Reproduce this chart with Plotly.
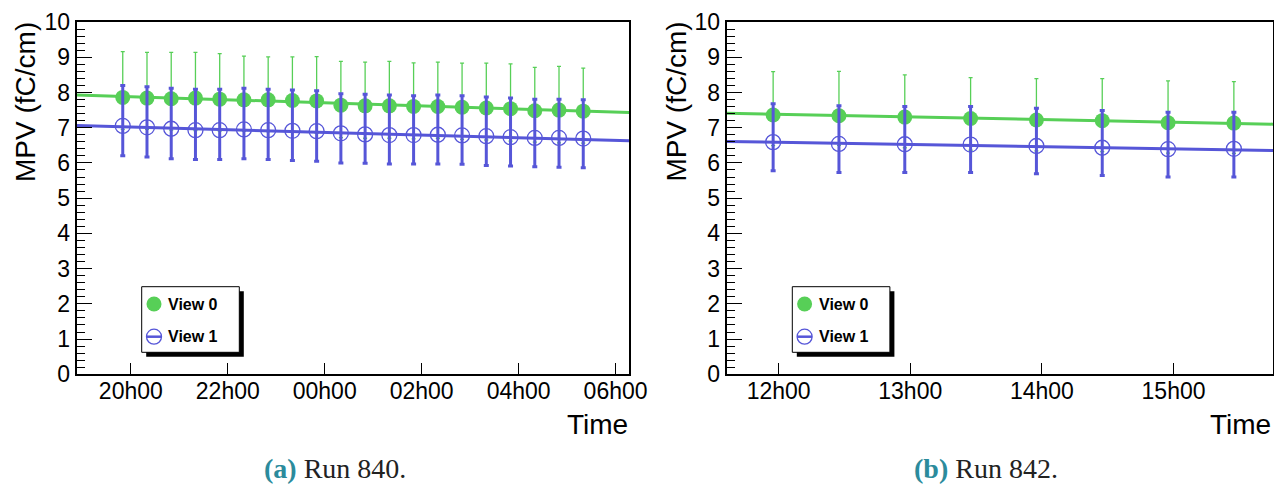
import plotly.graph_objects as go

# ---------------- data ----------------
# Run 840 (left panel)
times_840 = ["2017-03-10 19:50", "2017-03-10 20:20", "2017-03-10 20:50", "2017-03-10 21:20",
             "2017-03-10 21:50", "2017-03-10 22:20", "2017-03-10 22:50", "2017-03-10 23:20",
             "2017-03-10 23:50", "2017-03-11 00:20", "2017-03-11 00:50", "2017-03-11 01:20",
             "2017-03-11 01:50", "2017-03-11 02:20", "2017-03-11 02:50", "2017-03-11 03:20",
             "2017-03-11 03:50", "2017-03-11 04:20", "2017-03-11 04:50", "2017-03-11 05:20"]
view0_840 = [7.86, 7.84, 7.82, 7.84, 7.81, 7.79, 7.79, 7.77, 7.76, 7.64,
             7.62, 7.62, 7.60, 7.60, 7.58, 7.56, 7.54, 7.48, 7.50, 7.47]
view0_840_up = [1.30, 1.30, 1.32, 1.30, 1.29, 1.24, 1.22, 1.24, 1.26, 1.24,
                1.24, 1.26, 1.24, 1.26, 1.25, 1.27, 1.27, 1.23, 1.24, 1.22]
view0_840_dn = [0.91, 0.89, 0.89, 0.92, 0.91, 0.89, 0.90, 0.89, 0.92, 0.92,
                0.92, 0.92, 0.92, 0.90, 0.91, 0.91, 0.92, 0.89, 0.93, 0.91]
view1_840 = [7.05, 7.01, 6.97, 6.93, 6.93, 6.95, 6.93, 6.91, 6.90, 6.84,
             6.81, 6.79, 6.79, 6.80, 6.78, 6.76, 6.73, 6.71, 6.71, 6.69]
view1_840_up = [1.15, 1.15, 1.15, 1.16, 1.16, 1.17, 1.16, 1.16, 1.15, 1.12,
                1.14, 1.14, 1.12, 1.13, 1.13, 1.11, 1.11, 1.10, 1.10, 1.10]
view1_840_dn = [0.85, 0.84, 0.85, 0.83, 0.83, 0.83, 0.83, 0.84, 0.85, 0.84,
                0.82, 0.82, 0.82, 0.83, 0.82, 0.83, 0.82, 0.82, 0.83, 0.83]
range_840 = ["2017-03-10 18:53", "2017-03-11 06:17"]
fit0_840 = [7.93, 7.43]
fit1_840 = [7.06, 6.63]

# Run 842 (right panel)
times_842 = ["2017-03-12 11:57:30", "2017-03-12 12:27:30", "2017-03-12 12:57:30", "2017-03-12 13:27:30",
             "2017-03-12 13:57:30", "2017-03-12 14:27:30", "2017-03-12 14:57:30", "2017-03-12 15:27:30"]
view0_842 = [7.36, 7.34, 7.30, 7.26, 7.22, 7.20, 7.14, 7.13]
view0_842_up = [1.23, 1.26, 1.20, 1.16, 1.17, 1.19, 1.19, 1.18]
view0_842_dn = [0.87, 0.84, 0.87, 0.90, 0.88, 0.88, 0.86, 0.86]
view1_842 = [6.59, 6.54, 6.53, 6.52, 6.48, 6.43, 6.39, 6.40]
view1_842_up = [1.09, 1.08, 1.07, 1.08, 1.07, 1.06, 1.05, 1.04]
view1_842_dn = [0.81, 0.81, 0.80, 0.79, 0.79, 0.79, 0.79, 0.80]
range_842 = ["2017-03-12 11:36:20", "2017-03-12 15:45:20"]
fit0_842 = [7.41, 7.10]
fit1_842 = [6.61, 6.35]

y_ticks = [0, 1, 2, 3, 4, 5, 6, 7, 8, 9, 10]
series_names = ["View 0", "View 1"]
captions = [("(a)", "Run 840."), ("(b)", "Run 842.")]

# ---------------- styling ----------------
# The page body has an 8px default margin: page pixel (x, y) maps to
# figure pixel (x - 8, y - 8).  The figure is kept inside the visible body width.
OFF = 8
W, H = 1282 - 2 * OFF, 487 - OFF
GREEN = "#57cf57"
BLUE = "#5656d8"
SANS = "Liberation Sans, Arial, Helvetica, sans-serif"
SERIF = "Liberation Serif, Times New Roman, serif"
TEAL = "#2b8b9c"
RIGHT_EDGE = 1273.0


def px(x):
    return (x - OFF) / W


def py(y):
    return 1 - (y - OFF) / H


fig = go.Figure()


def add_panel(xa, ya, times, v0, v0u, v0d, v1, v1u, v1d, xr, f0, f1):
    fig.add_trace(go.Scatter(x=xr, y=f0, mode="lines", line=dict(color=GREEN, width=3),
                             xaxis=xa, yaxis=ya, showlegend=False, hoverinfo="skip"))
    fig.add_trace(go.Scatter(x=times, y=v0, mode="markers", name=series_names[0],
                             marker=dict(symbol="circle", size=15, color=GREEN),
                             error_y=dict(type="data", symmetric=False, array=v0u, arrayminus=v0d,
                                          color=GREEN, thickness=1.3, width=2),
                             xaxis=xa, yaxis=ya, showlegend=False))
    fig.add_trace(go.Scatter(x=xr, y=f1, mode="lines", line=dict(color=BLUE, width=3),
                             xaxis=xa, yaxis=ya, showlegend=False, hoverinfo="skip"))
    fig.add_trace(go.Scatter(x=times, y=v1, mode="markers", name=series_names[1],
                             marker=dict(symbol="circle-open", size=15, color=BLUE,
                                         line=dict(width=1.3, color=BLUE)),
                             error_y=dict(type="data", symmetric=False, array=v1u, arrayminus=v1d,
                                          color=BLUE, thickness=3, width=2.5),
                             xaxis=xa, yaxis=ya, showlegend=False))


add_panel("x", "y", times_840, view0_840, view0_840_up, view0_840_dn,
          view1_840, view1_840_up, view1_840_dn, range_840, fit0_840, fit1_840)
add_panel("x2", "y2", times_842, view0_842, view0_842_up, view0_842_dn,
          view1_842, view1_842_up, view1_842_dn, range_842, fit0_842, fit1_842)

ydom = [py(374.3), py(22.0)]
common_y = dict(range=[0, 10], tickvals=y_ticks, ticks="inside", ticklen=15, tickwidth=1,
                tickcolor="black", showline=True, linewidth=2, linecolor="black", mirror=True,
                showgrid=False, zeroline=False, domain=ydom, automargin=False,
                tickfont=dict(family=SANS, size=23, color="black"),
                minor=dict(ticks="inside", ticklen=8, tickwidth=1, tickcolor="black", dtick=0.2,
                           showgrid=False))
common_x = dict(type="date", tickformat="%Hh%M", ticks="inside", ticklen=11, tickwidth=1,
                tickcolor="black", showline=True, linewidth=2, linecolor="black", mirror=True,
                showgrid=False, zeroline=False, automargin=False, ticklabelstandoff=-5,
                tickfont=dict(family=SANS, size=23, color="black"))

fig.update_layout(
    width=W, height=H, autosize=False,
    margin=dict(l=0, r=0, t=0, b=0, pad=0),
    paper_bgcolor="white", plot_bgcolor="white",
    showlegend=False,
    xaxis=dict(common_x, domain=[px(76.7), px(629.3)], range=range_840,
               dtick=7200000, tick0="2017-03-10 00:00", anchor="y"),
    yaxis=dict(common_y, anchor="x"),
    xaxis2=dict(common_x, domain=[px(726.7), px(RIGHT_EDGE)], range=range_842,
                dtick=3600000, tick0="2017-03-12 00:00", anchor="y2"),
    yaxis2=dict(common_y, anchor="x2"),
)

shapes = []
annotations = []
for k, dx in enumerate([0.0, 650.6]):
    # axis titles
    annotations.append(dict(text="MPV (fC/cm)", textangle=-90, x=px(25 + dx),
                            y=py(20), xref="paper", yref="paper", xanchor="center", yanchor="top",
                            showarrow=False, font=dict(family=SANS, size=28, color="black")))
    annotations.append(dict(text="Time", x=px(min(629.5 + dx, RIGHT_EDGE)), y=py(424),
                            xref="paper", yref="paper",
                            xanchor="right", yanchor="middle", showarrow=False,
                            font=dict(family=SANS, size=28, color="black")))
    # legend box with shadow
    x0, x1, y0, y1 = 141.7 + dx, 239.3 + dx, 286.7, 352.3
    shapes.append(dict(type="rect", xref="paper", yref="paper", x0=px(x0 + 4.5), x1=px(x1 + 4.5),
                       y0=py(y1 + 4.5), y1=py(y0 + 4.5), fillcolor="black", line=dict(width=0),
                       layer="above"))
    shapes.append(dict(type="rect", xref="paper", yref="paper", x0=px(x0), x1=px(x1),
                       y0=py(y1), y1=py(y0), fillcolor="white", line=dict(color="black", width=1),
                       layer="above"))
    cx = 154 + dx
    shapes.append(dict(type="circle", xref="paper", yref="paper", xsizemode="pixel", ysizemode="pixel",
                       xanchor=px(cx), yanchor=py(304), x0=-7.5, x1=7.5, y0=-7.5, y1=7.5,
                       fillcolor=GREEN, line=dict(width=0), layer="above"))
    shapes.append(dict(type="circle", xref="paper", yref="paper", xsizemode="pixel", ysizemode="pixel",
                       xanchor=px(cx), yanchor=py(336.7), x0=-7.5, x1=7.5, y0=-7.5, y1=7.5,
                       fillcolor="rgba(0,0,0,0)", line=dict(width=1.3, color=BLUE), layer="above"))
    shapes.append(dict(type="line", xref="paper", yref="paper", xsizemode="pixel", ysizemode="pixel",
                       xanchor=px(cx), yanchor=py(336.7), x0=-7.5, x1=7.5, y0=0, y1=0,
                       line=dict(width=2.5, color=BLUE), layer="above"))
    for name, yy in zip(series_names, [304, 336.7]):
        annotations.append(dict(text="<b>" + name + "</b>", x=px(166 + dx), y=py(yy),
                                xref="paper", yref="paper", xanchor="left", yanchor="middle",
                                showarrow=False, font=dict(family=SANS, size=16, color="black")))
    # caption
    lab, txt = captions[k]
    annotations.append(dict(text="<b><span style='color:%s'>%s</span></b> %s" % (TEAL, lab, txt),
                            x=px(335 + dx), y=py(468), xref="paper", yref="paper",
                            xanchor="center", yanchor="middle", showarrow=False,
                            font=dict(family=SERIF, size=28, color="#222222")))

fig.update_layout(shapes=shapes, annotations=annotations)
fig.write_html("out.html")
